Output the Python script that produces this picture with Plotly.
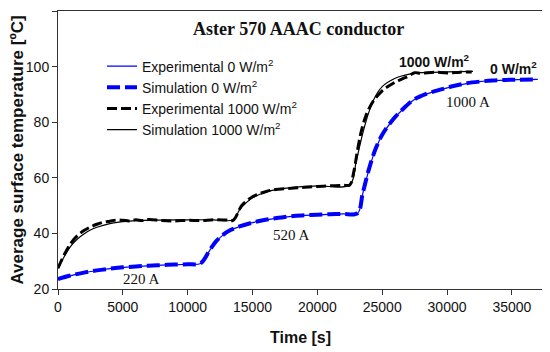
import plotly.graph_objects as go

# ---- data ----
t_sim0 = [0, 1000, 2000, 3000, 4000, 5000, 6000, 7000, 8000, 9000, 10000, 11000,
          11700, 12200, 12700, 13300, 14000, 15000, 16000, 17000, 18000, 19000, 20000,
          21000, 22000, 23100, 23500, 24000, 24500, 25000, 25800, 26500, 27400, 28400,
          29400, 30500, 31500, 32500, 33500, 34500, 35500, 37000]
T_sim0 = [23.6, 24.9, 25.9, 26.7, 27.3, 27.8, 28.1, 28.4, 28.6, 28.8, 28.9, 29.3,
          34.0, 37.2, 39.4, 41.2, 42.5, 43.9, 44.9, 45.6, 46.2, 46.5, 46.7,
          46.9, 47.0, 47.3, 54.5, 63.5, 70.5, 75.5, 80.8, 84.3, 88.0, 90.2,
          91.6, 93.0, 94.0, 94.6, 95.0, 95.2, 95.3, 95.4]

t_exp0 = [0, 1000, 2000, 3000, 4000, 5000, 6000, 7000, 8000, 9000, 10000, 11000,
          11700, 12200, 12700, 13300, 14000, 15000, 16000, 17000, 18000, 19000, 20000,
          21000, 22000, 23100, 23500, 24000, 24500, 25000, 25800, 26500, 27400, 28400,
          29400, 30500, 31500, 32500, 33500, 34500, 35500, 37000]
T_exp0 = [23.5, 24.8, 25.9, 26.6, 27.3, 27.7, 28.1, 28.3, 28.6, 28.7, 28.9, 29.2,
          33.9, 37.1, 39.3, 41.2, 42.4, 43.9, 44.8, 45.6, 46.1, 46.5, 46.6,
          46.9, 47.0, 47.2, 54.3, 63.3, 70.4, 75.4, 80.7, 84.2, 87.9, 90.1,
          91.6, 92.9, 93.9, 94.6, 95.0, 95.1, 95.3, 95.4]

t_exp1000 = [0, 500, 1000, 1500, 2000, 2500, 3000, 3500, 4000, 4500, 5000, 5500, 6000,
             6500, 7000, 8000, 9000, 10000, 11000, 12000, 13000, 13500, 14200, 15000,
             15500, 16000, 16500, 17000, 18000, 19000, 20000, 21000, 22000, 22500,
             22800, 23100, 23400, 23800, 24300, 25000, 25500, 26000, 26500, 27000,
             27500, 28000, 29000, 30000, 31000, 31900]
T_exp1000 = [27.5, 32.5, 36.5, 39.2, 41.0, 42.3, 43.3, 44.0, 44.4, 44.8, 44.7, 44.5, 44.9,
             44.6, 45.0, 44.6, 44.5, 44.7, 44.6, 44.9, 44.8, 44.7, 50.2, 53.2,
             54.2, 55.0, 55.6, 55.9, 56.2, 56.6, 56.9, 57.1, 57.3, 57.4,
             62.0, 70.0, 77.0, 83.0, 87.5, 91.3, 93.0, 94.4, 95.5, 96.5,
             97.8, 97.6, 98.0, 97.7, 98.0, 98.1]

t_sim1000 = [0, 500, 1000, 1500, 2000, 2500, 3000, 4000, 5000, 6000, 8000, 10000, 12000,
             13500, 14000, 14500, 15000, 16000, 17000, 18000, 20000, 22500, 23000,
             23500, 24000, 24500, 25000, 26000, 27000, 28000, 30000, 32000]
T_sim1000 = [27.5, 31.8, 35.5, 38.0, 39.8, 41.2, 42.2, 43.5, 44.2, 44.6, 44.8, 44.9, 44.9,
             44.9, 48.5, 51.0, 52.8, 54.8, 55.9, 56.5, 57.1, 57.5, 66.0,
             76.0, 84.0, 89.5, 92.8, 95.8, 97.2, 97.8, 98.1, 98.3]

x_ticks = [0, 5000, 10000, 15000, 20000, 25000, 30000, 35000]
x_tick_labels = ["0", "5000", "10000", "15000", "20000", "25000", "30000", "35000"]
y_ticks = [20, 40, 60, 80, 100, 120]

ann_text = ["220 A", "520 A", "1000 A"]
ann_t = [6400, 17980, 31600]
ann_T = [23.6, 39.4, 87.4]

irr_text = ["1000 W/m<sup>2</sup>", "0 W/m<sup>2</sup>"]
irr_t = [29050, 35160]
irr_T = [102.1, 99.4]

SANS = "Liberation Sans, Arial, sans-serif"
SERIF = "Liberation Serif, Times New Roman, serif"

fig = go.Figure()
fig.add_trace(go.Scatter(x=t_exp0, y=T_exp0, mode="lines", name="Experimental 0 W/m<sup>2</sup>",
                         line=dict(color="#0000ff", width=1.2), line_shape="spline"))
fig.add_trace(go.Scatter(x=t_sim0, y=T_sim0, mode="lines", name="Simulation 0 W/m<sup>2</sup>",
                         line=dict(color="#0000ff", width=4, dash="13px,5px"), line_shape="spline"))
fig.add_trace(go.Scatter(x=t_exp1000, y=T_exp1000, mode="lines", name="Experimental 1000 W/m<sup>2</sup>",
                         line=dict(color="#000000", width=3, dash="10px,4px"), line_shape="spline"))
fig.add_trace(go.Scatter(x=t_sim1000, y=T_sim1000, mode="lines", name="Simulation 1000 W/m<sup>2</sup>",
                         line=dict(color="#000000", width=1.2), line_shape="spline"))

for txt, xx, yy in zip(ann_text, ann_t, ann_T):
    fig.add_annotation(x=xx, y=yy, text=txt, showarrow=False, xanchor="center", yanchor="middle",
                       font=dict(family=SERIF, size=15, color="#111"))
for txt, xx, yy in zip(irr_text, irr_t, irr_T):
    fig.add_annotation(x=xx, y=yy, text="<b>" + txt + "</b>", showarrow=False,
                       xanchor="center", yanchor="middle",
                       font=dict(family=SANS, size=14, color="#111"))

fig.add_annotation(xref="paper", yref="paper", x=0.496, y=0.935, text="<b>Aster 570 AAAC conductor</b>",
                   showarrow=False, xanchor="center", yanchor="middle",
                   font=dict(family=SERIF, size=18, color="#111"))

# the page body adds an 8px offset; figure is sized so the plot area lands where the reference has it
fig.update_layout(
    width=542, height=344,
    margin=dict(l=50, r=7, t=3, b=63),
    paper_bgcolor="white", plot_bgcolor="white",
    font=dict(family=SANS, size=14, color="#111"),
    showlegend=True,
    legend=dict(x=0.0907, y=0.858, xanchor="left", yanchor="top",
                bgcolor="rgba(0,0,0,0)", font=dict(family=SANS, size=14, color="#111"),
                tracegroupgap=0),
)
fig.update_xaxes(range=[0, 37400], tickvals=x_ticks, ticktext=x_tick_labels, ticks="outside", ticklen=5,
                 showgrid=False, zeroline=False, showline=True, linecolor="#333",
                 linewidth=1, mirror=True, tickcolor="#333", automargin=False,
                 title=dict(text="<b>Time [s]</b>", font=dict(family=SANS, size=16), standoff=18),
                 tickfont=dict(family=SANS, size=14))
fig.update_yaxes(range=[20, 120], tickvals=y_ticks, ticks="outside", ticklen=5,
                 showgrid=False, zeroline=False, showline=True, linecolor="#333",
                 linewidth=1, mirror=True, tickcolor="#333", automargin=False,
                 title=dict(text="<b>Average surface temperature [ºC]</b>", font=dict(family=SANS, size=17), standoff=13),
                 tickfont=dict(family=SANS, size=14))

fig.write_html("out.html")
